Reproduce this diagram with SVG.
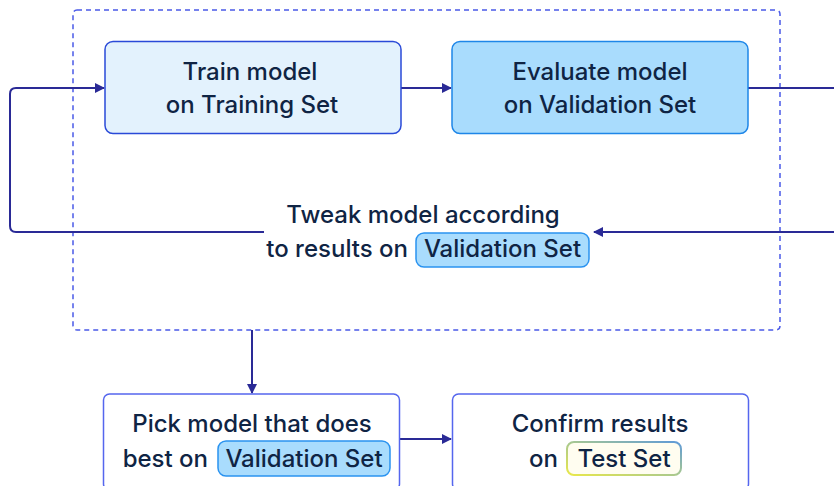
<svg xmlns="http://www.w3.org/2000/svg" width="834" height="486" viewBox="0 0 834 486">
<style>
text{font-family:Inter,"Noto Sans","Liberation Sans",sans-serif;font-size:24px;font-weight:500;fill:#0f2444;text-anchor:middle}
text.e{text-anchor:end}
.conn{fill:none;stroke:#2a2a96;stroke-width:2}
.pill{fill:#a9dcfd;stroke:#2a93f0;stroke-width:1.5}
</style>
<defs>
<marker id="ah" markerWidth="10" markerHeight="10" refX="9" refY="5" orient="auto" markerUnits="userSpaceOnUse">
<path d="M0,0 L10,5 L0,10 Z" fill="#2a2a96"/>
</marker>
<linearGradient id="tg" x1="0" y1="1" x2="1" y2="0">
<stop offset="0" stop-color="#e9e84a"/>
<stop offset="0.5" stop-color="#a8c890"/>
<stop offset="1" stop-color="#5f9ad8"/>
</linearGradient>
</defs>
<rect width="834" height="486" fill="#ffffff"/>
<g id="loop-frame">
<rect x="73" y="10" width="707" height="320" rx="4" fill="none" stroke="#4a5ae8" stroke-width="1.5" stroke-dasharray="5,4"/>
</g>
<g id="connectors">
<path class="conn" d="M401,88 H451" marker-end="url(#ah)"/>
<path class="conn" d="M748,88 H834"/>
<path class="conn" d="M834,232 H594" marker-end="url(#ah)"/>
<path class="conn" d="M264,232 H16 Q10,232 10,226 V94 Q10,88 16,88 H104" marker-end="url(#ah)"/>
<path class="conn" d="M252,330 V393" marker-end="url(#ah)"/>
<path class="conn" d="M400,439 H451" marker-end="url(#ah)"/>
</g>
<g id="train">
<rect x="105" y="41.5" width="296" height="92" rx="8" fill="#e3f2fd" stroke="#2a4ad8" stroke-width="1.5"/>
<text x="250" y="80">Train model</text>
<text x="252" y="113">on Training Set</text>
</g>
<g id="evaluate">
<rect x="452" y="41.5" width="296" height="92" rx="8" fill="#a9dcfd" stroke="#1e86e8" stroke-width="1.5"/>
<text x="600" y="80">Evaluate model</text>
<text x="600" y="113">on Validation Set</text>
</g>
<g id="tweak">
<text x="423" y="223">Tweak model according</text>
<rect class="pill" x="416" y="233" width="173" height="34" rx="8"/>
<text class="e" x="408" y="257">to results on</text>
<text x="502.5" y="257">Validation Set</text>
</g>
<g id="pick">
<rect x="103.5" y="394" width="296" height="96" rx="6" fill="#ffffff" stroke="#5566ee" stroke-width="1.5"/>
<text x="252" y="432">Pick model that does</text>
<rect class="pill" x="218" y="441" width="172" height="35" rx="8"/>
<text class="e" x="208" y="467">best on</text>
<text x="304" y="467">Validation Set</text>
</g>
<g id="confirm">
<rect x="452.5" y="394" width="296" height="96" rx="6" fill="#ffffff" stroke="#5566ee" stroke-width="1.5"/>
<text x="600" y="432">Confirm results</text>
<rect x="567" y="442" width="114" height="33" rx="7" fill="#fffdf0" stroke="url(#tg)" stroke-width="2"/>
<text class="e" x="558" y="467">on</text>
<text x="624" y="467">Test Set</text>
</g>
</svg>
